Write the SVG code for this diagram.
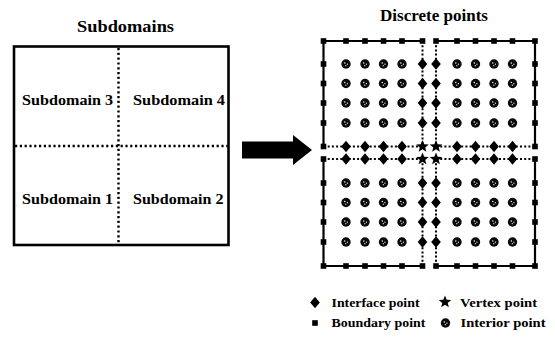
<svg xmlns="http://www.w3.org/2000/svg" width="555" height="343" viewBox="0 0 555 343">
<style>
text{font-family:"Liberation Serif","Times New Roman",serif;font-weight:bold;fill:#000}
.title{font-size:17px}
.lab{font-size:15px}
.leg{font-size:13.5px}
.box{fill:none;stroke:#000;stroke-width:2.6}
.dot{fill:none;stroke:#000;stroke-width:2.4;stroke-dasharray:2.2 2.6}
.solid{fill:none;stroke:#000;stroke-width:2.2}
.idot{fill:none;stroke:#000;stroke-width:2;stroke-dasharray:2 2.2}
</style>
<defs>
<rect id="sq" x="-2.8" y="-2.8" width="5.6" height="5.6" fill="#000"/>
<path id="dia" d="M0,-5.8 L4.8,0 L0,5.8 L-4.8,0 Z" fill="#000"/>
<path id="star" d="M0,-6.6 L1.68,-2.3 L6.28,-2.04 L2.72,0.88 L3.88,5.34 L0,2.86 L-3.88,5.34 L-2.72,0.88 L-6.28,-2.04 L-1.68,-2.3 Z" fill="#000"/>
<g id="cir"><circle r="4.7" fill="#0a0a0a"/><circle cx="-1.2" cy="-1" r="0.7" fill="#fff"/><circle cx="1.4" cy="0.2" r="0.6" fill="#fff"/><circle cx="-0.2" cy="1.7" r="0.6" fill="#fff"/></g>
</defs>
<rect width="555" height="343" fill="#fff"/>

<g id="subdomains">
<text class="title" x="125.5" y="32" text-anchor="middle" textLength="97" lengthAdjust="spacingAndGlyphs">Subdomains</text>
<rect class="box" x="14" y="46.5" width="214.5" height="198.5"/>
<line class="dot" x1="118.5" y1="48" x2="118.5" y2="244"/>
<line class="dot" x1="15" y1="146" x2="227.5" y2="146"/>
<g id="sub3"><text class="lab" x="22" y="105" textLength="91" lengthAdjust="spacingAndGlyphs">Subdomain 3</text></g>
<g id="sub4"><text class="lab" x="133" y="105" textLength="92" lengthAdjust="spacingAndGlyphs">Subdomain 4</text></g>
<g id="sub1"><text class="lab" x="22" y="204" textLength="91" lengthAdjust="spacingAndGlyphs">Subdomain 1</text></g>
<g id="sub2"><text class="lab" x="133" y="204" textLength="90.5" lengthAdjust="spacingAndGlyphs">Subdomain 2</text></g>
</g>

<g id="connectors">
<polygon points="242,141.5 293,141.5 293,135 312,150 293,165 293,158.5 242,158.5" fill="#000"/>
</g>

<g id="discrete">
<text class="title" x="434" y="21" text-anchor="middle" textLength="108" lengthAdjust="spacingAndGlyphs">Discrete points</text>
<g id="grid-lines">
<path class="solid" d="M323.5,41 H422.5 M436,41 H535 M323.5,266 H422.5 M436,266 H535 M323.5,41 V146.5 M323.5,159 V266 M535,41 V146.5 M535,159 V266"/>
<path class="idot" d="M422.5,41 V146.5 M436,41 V146.5 M422.5,159 V266 M436,159 V266 M323.5,146.5 H422.5 M436,146.5 H535 M323.5,159 H422.5 M436,159 H535"/>
</g>
<g id="boundary-points">
<use href="#sq" x="323.5" y="41"/><use href="#sq" x="346" y="41"/><use href="#sq" x="365" y="41"/><use href="#sq" x="383.5" y="41"/><use href="#sq" x="402" y="41"/><use href="#sq" x="422.5" y="41"/><use href="#sq" x="436" y="41"/><use href="#sq" x="457" y="41"/><use href="#sq" x="475.5" y="41"/><use href="#sq" x="494" y="41"/><use href="#sq" x="512.5" y="41"/><use href="#sq" x="535" y="41"/>
<use href="#sq" x="323.5" y="266"/><use href="#sq" x="346" y="266"/><use href="#sq" x="365" y="266"/><use href="#sq" x="383.5" y="266"/><use href="#sq" x="402" y="266"/><use href="#sq" x="422.5" y="266"/><use href="#sq" x="436" y="266"/><use href="#sq" x="457" y="266"/><use href="#sq" x="475.5" y="266"/><use href="#sq" x="494" y="266"/><use href="#sq" x="512.5" y="266"/><use href="#sq" x="535" y="266"/>
<use href="#sq" x="323.5" y="64"/><use href="#sq" x="323.5" y="83.5"/><use href="#sq" x="323.5" y="103"/><use href="#sq" x="323.5" y="123"/><use href="#sq" x="323.5" y="146.5"/><use href="#sq" x="323.5" y="159"/><use href="#sq" x="323.5" y="183"/><use href="#sq" x="323.5" y="202.5"/><use href="#sq" x="323.5" y="222"/><use href="#sq" x="323.5" y="242"/>
<use href="#sq" x="535" y="64"/><use href="#sq" x="535" y="83.5"/><use href="#sq" x="535" y="103"/><use href="#sq" x="535" y="123"/><use href="#sq" x="535" y="146.5"/><use href="#sq" x="535" y="159"/><use href="#sq" x="535" y="183"/><use href="#sq" x="535" y="202.5"/><use href="#sq" x="535" y="222"/><use href="#sq" x="535" y="242"/>
</g>
<g id="interface-points">
<use href="#dia" x="422.5" y="64"/><use href="#dia" x="422.5" y="83.5"/><use href="#dia" x="422.5" y="103"/><use href="#dia" x="422.5" y="123"/><use href="#dia" x="422.5" y="183"/><use href="#dia" x="422.5" y="202.5"/><use href="#dia" x="422.5" y="222"/><use href="#dia" x="422.5" y="242"/>
<use href="#dia" x="436" y="64"/><use href="#dia" x="436" y="83.5"/><use href="#dia" x="436" y="103"/><use href="#dia" x="436" y="123"/><use href="#dia" x="436" y="183"/><use href="#dia" x="436" y="202.5"/><use href="#dia" x="436" y="222"/><use href="#dia" x="436" y="242"/>
<use href="#dia" x="346" y="146.5"/><use href="#dia" x="365" y="146.5"/><use href="#dia" x="383.5" y="146.5"/><use href="#dia" x="402" y="146.5"/><use href="#dia" x="457" y="146.5"/><use href="#dia" x="475.5" y="146.5"/><use href="#dia" x="494" y="146.5"/><use href="#dia" x="512.5" y="146.5"/>
<use href="#dia" x="346" y="159"/><use href="#dia" x="365" y="159"/><use href="#dia" x="383.5" y="159"/><use href="#dia" x="402" y="159"/><use href="#dia" x="457" y="159"/><use href="#dia" x="475.5" y="159"/><use href="#dia" x="494" y="159"/><use href="#dia" x="512.5" y="159"/>
</g>
<g id="vertex-points">
<use href="#star" x="422.5" y="146.5"/><use href="#star" x="436" y="146.5"/><use href="#star" x="422.5" y="159"/><use href="#star" x="436" y="159"/>
</g>
<g id="interior-points">
<use href="#cir" x="346" y="64"/><use href="#cir" x="365" y="64"/><use href="#cir" x="383.5" y="64"/><use href="#cir" x="402" y="64"/><use href="#cir" x="457" y="64"/><use href="#cir" x="475.5" y="64"/><use href="#cir" x="494" y="64"/><use href="#cir" x="512.5" y="64"/>
<use href="#cir" x="346" y="83.5"/><use href="#cir" x="365" y="83.5"/><use href="#cir" x="383.5" y="83.5"/><use href="#cir" x="402" y="83.5"/><use href="#cir" x="457" y="83.5"/><use href="#cir" x="475.5" y="83.5"/><use href="#cir" x="494" y="83.5"/><use href="#cir" x="512.5" y="83.5"/>
<use href="#cir" x="346" y="103"/><use href="#cir" x="365" y="103"/><use href="#cir" x="383.5" y="103"/><use href="#cir" x="402" y="103"/><use href="#cir" x="457" y="103"/><use href="#cir" x="475.5" y="103"/><use href="#cir" x="494" y="103"/><use href="#cir" x="512.5" y="103"/>
<use href="#cir" x="346" y="123"/><use href="#cir" x="365" y="123"/><use href="#cir" x="383.5" y="123"/><use href="#cir" x="402" y="123"/><use href="#cir" x="457" y="123"/><use href="#cir" x="475.5" y="123"/><use href="#cir" x="494" y="123"/><use href="#cir" x="512.5" y="123"/>
<use href="#cir" x="346" y="183"/><use href="#cir" x="365" y="183"/><use href="#cir" x="383.5" y="183"/><use href="#cir" x="402" y="183"/><use href="#cir" x="457" y="183"/><use href="#cir" x="475.5" y="183"/><use href="#cir" x="494" y="183"/><use href="#cir" x="512.5" y="183"/>
<use href="#cir" x="346" y="202.5"/><use href="#cir" x="365" y="202.5"/><use href="#cir" x="383.5" y="202.5"/><use href="#cir" x="402" y="202.5"/><use href="#cir" x="457" y="202.5"/><use href="#cir" x="475.5" y="202.5"/><use href="#cir" x="494" y="202.5"/><use href="#cir" x="512.5" y="202.5"/>
<use href="#cir" x="346" y="222"/><use href="#cir" x="365" y="222"/><use href="#cir" x="383.5" y="222"/><use href="#cir" x="402" y="222"/><use href="#cir" x="457" y="222"/><use href="#cir" x="475.5" y="222"/><use href="#cir" x="494" y="222"/><use href="#cir" x="512.5" y="222"/>
<use href="#cir" x="346" y="242"/><use href="#cir" x="365" y="242"/><use href="#cir" x="383.5" y="242"/><use href="#cir" x="402" y="242"/><use href="#cir" x="457" y="242"/><use href="#cir" x="475.5" y="242"/><use href="#cir" x="494" y="242"/><use href="#cir" x="512.5" y="242"/>
</g>
</g>

<g id="legend">
<g id="leg-interface"><use href="#dia" x="315" y="302.5"/><text class="leg" x="331.5" y="307" textLength="88" lengthAdjust="spacingAndGlyphs">Interface point</text></g>
<g id="leg-vertex"><use href="#star" x="445" y="302"/><text class="leg" x="460" y="307" textLength="77" lengthAdjust="spacingAndGlyphs">Vertex point</text></g>
<g id="leg-boundary"><use href="#sq" x="315" y="323"/><text class="leg" x="331.5" y="327" textLength="94" lengthAdjust="spacingAndGlyphs">Boundary point</text></g>
<g id="leg-interior"><use href="#cir" x="445.5" y="323"/><text class="leg" x="460.5" y="327" textLength="85" lengthAdjust="spacingAndGlyphs">Interior point</text></g>
</g>
</svg>
